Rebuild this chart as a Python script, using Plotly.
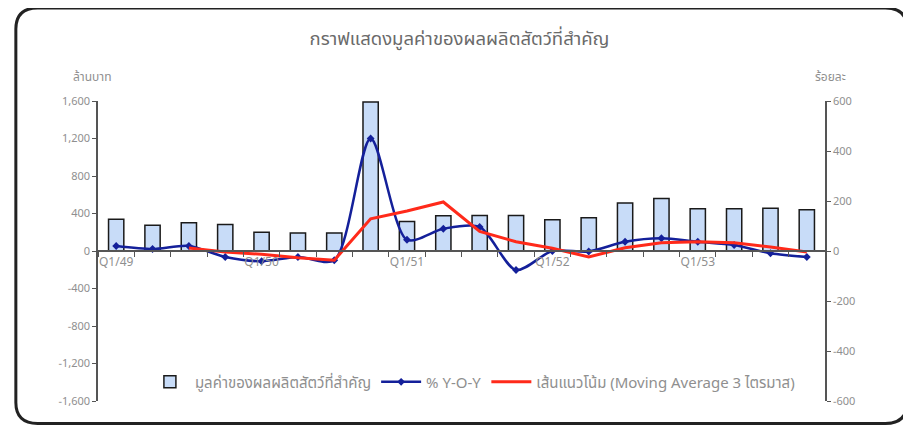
import plotly.graph_objects as go

quarters = ["Q1/49", "Q2/49", "Q3/49", "Q4/49",
            "Q1/50", "Q2/50", "Q3/50", "Q4/50",
            "Q1/51", "Q2/51", "Q3/51", "Q4/51",
            "Q1/52", "Q2/52", "Q3/52", "Q4/52",
            "Q1/53", "Q2/53", "Q3/53", "Q4/53"]
tick_labels = ["Q1/49", "", "", "", "Q1/50", "", "", "", "Q1/51", "", "", "",
               "Q1/52", "", "", "", "Q1/53", "", "", ""]

# มูลค่า (ล้านบาท)
value = [338, 276, 301, 283, 200, 193, 193, 1590, 315, 376,
         380, 380, 333, 355, 512, 560, 450, 450, 455, 440]
# % Y-O-Y
yoy = [20, 8, 20, -24, -41, -24, -37, 450, 45, 89,
       96, -76, 0, -2, 37, 51, 37, 24, -9, -24]
# Moving Average 3 quarters
ma3 = [None, None, 12, -4, -13, -27, -37, 129, 160, 196,
       78, 37, 11, -24, 13, 33, 37, 33, 16, -4]

grey = "#8f8f8f"
font_family = "Noto Sans Thai, Tahoma, Noto Sans, DejaVu Sans, sans-serif"

fig = go.Figure()

fig.add_trace(go.Bar(
    x=quarters, y=value, name="มูลค่าของผลผลิตสัตว์ที่สำคัญ",
    width=0.42,
    marker=dict(color="#c8dcf8", line=dict(color="#1a1a1a", width=1.5)),
))
fig.add_trace(go.Scatter(
    x=quarters, y=yoy, name="% Y-O-Y", yaxis="y2",
    mode="lines+markers",
    line=dict(color="#14209a", width=2.5, shape="spline", smoothing=0.8),
    marker=dict(symbol="diamond", size=6, color="#14209a"),
))
fig.add_trace(go.Scatter(
    x=quarters, y=ma3, name="เส้นแนวโน้ม (Moving Average 3 ไตรมาส)", yaxis="y2",
    mode="lines",
    line=dict(color="#ff2a1a", width=3),
))

# rounded outer frame (paper coords relative to plot area)
x0, x1, y0, y1 = -0.113, 1.113, -0.075, 1.31
rx, ry = 0.03, 0.07
frame = (f"M {x0+rx},{y1} L {x1-rx},{y1} Q {x1},{y1} {x1},{y1-ry} "
         f"L {x1},{y0+ry} Q {x1},{y0} {x1-rx},{y0} "
         f"L {x0+rx},{y0} Q {x0},{y0} {x0},{y0+ry} "
         f"L {x0},{y1-ry} Q {x0},{y1} {x0+rx},{y1} Z")

fig.update_layout(
    width=903, height=418,
    margin=dict(l=90, r=86, t=93, b=25),
    paper_bgcolor="white", plot_bgcolor="white",
    font=dict(family=font_family, size=11, color=grey),
    title=dict(text="กราฟแสดงมูลค่าของผลผลิตสัตว์ที่สำคัญ", x=0.5, xanchor="center",
               y=0.928, yanchor="middle", font=dict(size=18.5, color="#6a6a6a")),
    showlegend=True,
    legend=dict(orientation="h", x=0.515, xanchor="center", y=0.063, yanchor="middle",
                bgcolor="rgba(0,0,0,0)", font=dict(size=15, color=grey),
                itemwidth=40, tracegroupgap=0),
    xaxis=dict(
        type="category", range=[-0.5, 19.5],
        tickmode="array", tickvals=quarters, ticktext=tick_labels,
        tickson="boundaries", ticks="outside", ticklen=5, tickcolor="#555",
        tickangle=0,
        showline=True, linecolor="#555", linewidth=1.5,
        anchor="free", position=0.5, showgrid=False,
        tickfont=dict(size=12, color=grey),
    ),
    yaxis=dict(
        range=[-1600, 1600], tickmode="array",
        tickvals=[-1600, -1200, -800, -400, 0, 400, 800, 1200, 1600],
        tickformat=",", showgrid=False, zeroline=False,
        showline=True, linecolor="#555", linewidth=1.5,
        ticks="outside", ticklen=4, tickcolor="#555",
        tickfont=dict(size=11, color=grey),
    ),
    yaxis2=dict(
        range=[-600, 600], overlaying="y", side="right",
        tickvals=[-600, -400, -200, 0, 200, 400, 600],
        showgrid=False, zeroline=False,
        showline=True, linecolor="#555", linewidth=1.5,
        ticks="outside", ticklen=4, tickcolor="#555",
        tickfont=dict(size=11, color=grey),
    ),
    shapes=[dict(type="path", path=frame, xref="paper", yref="paper",
                 line=dict(color="#222222", width=3), layer="below")],
    annotations=[
        dict(text="ล้านบาท", x=-0.008, y=1.045, xref="paper", yref="paper",
             xanchor="center", yanchor="bottom", showarrow=False,
             font=dict(size=12, color=grey)),
        dict(text="ร้อยละ", x=1.007, y=1.045, xref="paper", yref="paper",
             xanchor="center", yanchor="bottom", showarrow=False,
             font=dict(size=12, color=grey)),
    ],
)

fig.write_html("out.html")
